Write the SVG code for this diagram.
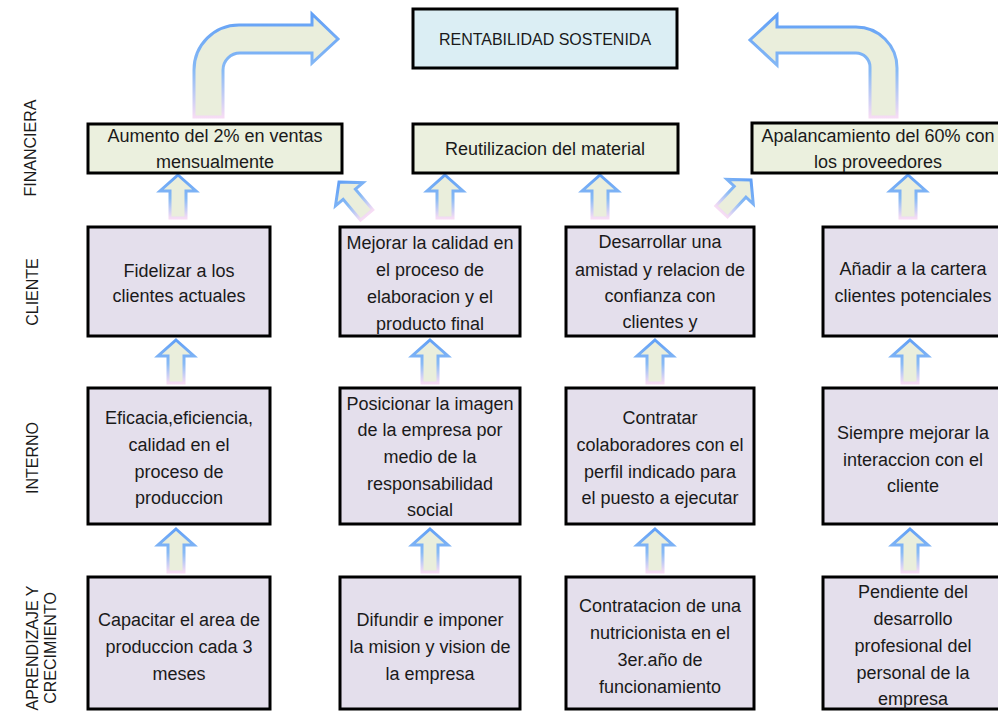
<svg xmlns="http://www.w3.org/2000/svg" width="998" height="711" viewBox="0 0 998 711">
<defs>
<linearGradient id="gs" x1="0" y1="0" x2="0" y2="1">
<stop offset="0" stop-color="#62a0f6"/>
<stop offset="0.55" stop-color="#88baf5"/>
<stop offset="1" stop-color="#f6dcf4"/>
</linearGradient>
<path id="up" d="M0,0 L18,16 L8,16 L8,43 L-8,43 L-8,16 L-18,16 Z"/>
</defs>
<style>
.bx{stroke:#000;stroke-width:3}
.fin{fill:#ebf0de}
.top{fill:#dbeef4}
.lav{fill:#e4dfec}
.t{font-family:"Liberation Sans",Arial,sans-serif;font-size:18px;fill:#1a1a1a;text-anchor:middle}
.s{font-family:"Liberation Sans",Arial,sans-serif;font-size:16px;fill:#1a1a1a;text-anchor:middle}
.ar{fill:#eaeedc;stroke:url(#gs);stroke-width:3;stroke-linejoin:miter}
</style>
<rect width="998" height="711" fill="#fff"/>

<g id="labels">
<text class="s" transform="translate(36,148) rotate(-90)">FINANCIERA</text>
<text class="s" transform="translate(38,292) rotate(-90)">CLIENTE</text>
<text class="s" transform="translate(38,458) rotate(-90)">INTERNO</text>
<text class="s" transform="translate(38,648) rotate(-90)">APRENDIZAJE Y</text>
<text class="s" transform="translate(56,648) rotate(-90)">CRECIMIENTO</text>
</g>

<g id="connectors">
<path class="ar" d="M194,117 L194,70 A45,45 0 0 1 239,25 L312,25 L312,14 L338,39 L312,63 L312,53 L240,53 A17,17 0 0 0 223,70 L223,117 Z"/>
<path class="ar" d="M897,117 L897,68 A41,41 0 0 0 856,27 L777,27 L777,15 L750,40 L777,65 L777,53 L856,53 A14,14 0 0 1 870,67 L870,117 Z"/>
<use href="#up" class="ar" transform="translate(178,175)"/>
<use href="#up" class="ar" transform="translate(445,175)"/>
<use href="#up" class="ar" transform="translate(600,175)"/>
<use href="#up" class="ar" transform="translate(908,175)"/>
<use href="#up" class="ar" transform="translate(339,182) rotate(-40)"/>
<use href="#up" class="ar" transform="translate(751,180) rotate(43)"/>
<use href="#up" class="ar" transform="translate(176,340)"/>
<use href="#up" class="ar" transform="translate(430,340)"/>
<use href="#up" class="ar" transform="translate(655,340)"/>
<use href="#up" class="ar" transform="translate(910,340)"/>
<use href="#up" class="ar" transform="translate(176,529)"/>
<use href="#up" class="ar" transform="translate(430,529)"/>
<use href="#up" class="ar" transform="translate(655,529)"/>
<use href="#up" class="ar" transform="translate(910,529)"/>
</g>

<g id="n-rentabilidad">
<rect class="bx top" x="413" y="9" width="264" height="59"/>
<text class="s" x="545" y="45">RENTABILIDAD SOSTENIDA</text>
</g>

<g id="n-f1">
<rect class="bx fin" x="88" y="124" width="254" height="49"/>
<text class="t" x="215" y="142">Aumento del 2% en ventas</text>
<text class="t" x="215" y="168">mensualmente</text>
</g>
<g id="n-f2">
<rect class="bx fin" x="413" y="124" width="265" height="49"/>
<text class="t" x="545" y="155">Reutilizacion del material</text>
</g>
<g id="n-f3">
<rect class="bx fin" x="752" y="123" width="254" height="50"/>
<text class="t" x="878" y="142">Apalancamiento del 60% con</text>
<text class="t" x="878" y="168">los proveedores</text>
</g>

<g id="n-c1">
<rect class="bx lav" x="88" y="227" width="182" height="109"/>
<text class="t" x="179" y="277">Fidelizar a los</text>
<text class="t" x="179" y="302">clientes actuales</text>
</g>
<g id="n-c2">
<rect class="bx lav" x="340" y="227" width="180" height="109"/>
<text class="t" x="430" y="249">Mejorar la calidad en</text>
<text class="t" x="430" y="276">el proceso de</text>
<text class="t" x="430" y="303">elaboracion y el</text>
<text class="t" x="430" y="330">producto final</text>
</g>
<g id="n-c3">
<rect class="bx lav" x="566" y="227" width="188" height="109"/>
<text class="t" x="660" y="248">Desarrollar una</text>
<text class="t" x="660" y="276">amistad y relacion de</text>
<text class="t" x="660" y="302">confianza con</text>
<text class="t" x="660" y="328">clientes y</text>
</g>
<g id="n-c4">
<rect class="bx lav" x="823" y="227" width="180" height="109"/>
<text class="t" x="913" y="275">Añadir a la cartera</text>
<text class="t" x="913" y="302">clientes potenciales</text>
</g>

<g id="n-i1">
<rect class="bx lav" x="88" y="388" width="182" height="136"/>
<text class="t" x="179" y="424">Eficacia,eficiencia,</text>
<text class="t" x="179" y="451">calidad en el</text>
<text class="t" x="179" y="478">proceso de</text>
<text class="t" x="179" y="504">produccion</text>
</g>
<g id="n-i2">
<rect class="bx lav" x="340" y="388" width="180" height="136"/>
<text class="t" x="430" y="410">Posicionar la imagen</text>
<text class="t" x="430" y="436">de la empresa por</text>
<text class="t" x="430" y="463">medio de la</text>
<text class="t" x="430" y="490">responsabilidad</text>
<text class="t" x="430" y="516">social</text>
</g>
<g id="n-i3">
<rect class="bx lav" x="566" y="388" width="188" height="136"/>
<text class="t" x="660" y="424">Contratar</text>
<text class="t" x="660" y="451">colaboradores con el</text>
<text class="t" x="660" y="478">perfil indicado para</text>
<text class="t" x="660" y="504">el puesto a ejecutar</text>
</g>
<g id="n-i4">
<rect class="bx lav" x="823" y="388" width="180" height="136"/>
<text class="t" x="913" y="439">Siempre mejorar la</text>
<text class="t" x="913" y="466">interaccion con el</text>
<text class="t" x="913" y="492">cliente</text>
</g>

<g id="n-a1">
<rect class="bx lav" x="88" y="577" width="182" height="132"/>
<text class="t" x="179" y="626">Capacitar el area de</text>
<text class="t" x="179" y="653">produccion cada 3</text>
<text class="t" x="179" y="680">meses</text>
</g>
<g id="n-a2">
<rect class="bx lav" x="340" y="577" width="180" height="132"/>
<text class="t" x="430" y="626">Difundir e imponer</text>
<text class="t" x="430" y="653">la mision y vision de</text>
<text class="t" x="430" y="680">la empresa</text>
</g>
<g id="n-a3">
<rect class="bx lav" x="566" y="577" width="188" height="132"/>
<text class="t" x="660" y="612">Contratacion de una</text>
<text class="t" x="660" y="639">nutricionista en el</text>
<text class="t" x="660" y="666">3er.año de</text>
<text class="t" x="660" y="693">funcionamiento</text>
</g>
<g id="n-a4">
<rect class="bx lav" x="823" y="577" width="180" height="132"/>
<text class="t" x="913" y="598">Pendiente del</text>
<text class="t" x="913" y="625">desarrollo</text>
<text class="t" x="913" y="652">profesional del</text>
<text class="t" x="913" y="679">personal de la</text>
<text class="t" x="913" y="705">empresa</text>
</g>
</svg>
